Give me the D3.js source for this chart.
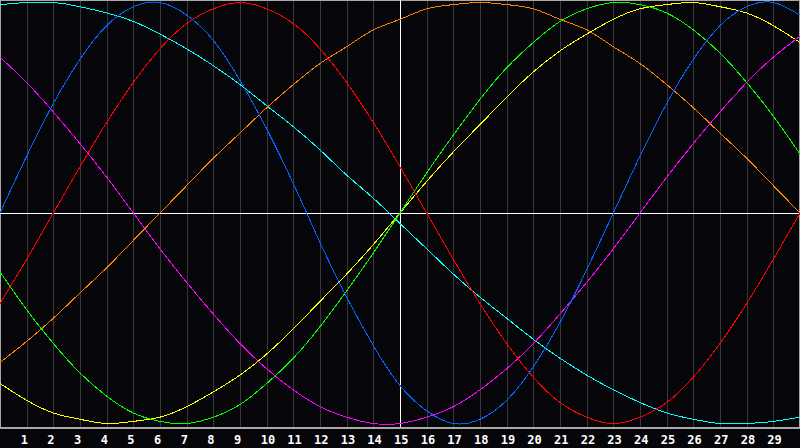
<!DOCTYPE html>
<html>
<head>
<meta charset="utf-8">
<script src="https://cdn.jsdelivr.net/npm/d3@7"></script>
<style>
    html, body { margin: 0; padding: 0; background: #060509; }
    svg { display: block; }
    .tick-label { font-family: "DejaVu Sans Mono", monospace; font-weight: bold; font-size: 12px; fill: #fff; }
</style>
</head>
<body>
<div id="chart"></div>
<script>
'use strict';

// x positions 0..30, one value per unit
var xValues = d3.range(0, 31);
var tickLabels = d3.range(1, 30).map(String);

var blue    = [0, 0.27, 0.52, 0.73, 0.89, 0.98, 1.00, 0.94, 0.82, 0.63, 0.40, 0.14, -0.14, -0.40, -0.63, -0.82, -0.94, -1.00, -0.98, -0.89, -0.73, -0.52, -0.27, 0, 0.27, 0.52, 0.73, 0.89, 0.98, 1.00, 0.94];
var red     = [-0.43, -0.22, 0, 0.22, 0.43, 0.62, 0.78, 0.90, 0.97, 1.00, 0.97, 0.90, 0.78, 0.62, 0.43, 0.22, 0, -0.22, -0.43, -0.62, -0.78, -0.90, -0.97, -1.00, -0.97, -0.90, -0.78, -0.62, -0.43, -0.22, 0];
var green   = [-0.28, -0.46, -0.62, -0.76, -0.87, -0.95, -0.99, -1.00, -0.97, -0.91, -0.81, -0.69, -0.54, -0.37, -0.19, 0, 0.19, 0.37, 0.54, 0.69, 0.81, 0.91, 0.97, 1.00, 0.99, 0.95, 0.87, 0.76, 0.62, 0.46, 0.28];
var magenta = [0.74, 0.62, 0.48, 0.33, 0.17, 0, -0.17, -0.33, -0.48, -0.62, -0.74, -0.84, -0.92, -0.97, -1.00, -1.00, -0.97, -0.92, -0.84, -0.74, -0.62, -0.48, -0.33, -0.17, 0, 0.17, 0.33, 0.48, 0.62, 0.74, 0.84];
var yellow  = [-0.81, -0.89, -0.95, -0.98, -1.00, -0.99, -0.97, -0.92, -0.85, -0.77, -0.67, -0.55, -0.42, -0.29, -0.15, 0, 0.15, 0.29, 0.42, 0.55, 0.67, 0.77, 0.85, 0.92, 0.97, 0.99, 1.00, 0.98, 0.95, 0.89, 0.81];
var orange  = [-0.71, -0.61, -0.50, -0.38, -0.26, -0.13, 0, 0.13, 0.26, 0.38, 0.50, 0.61, 0.71, 0.79, 0.87, 0.92, 0.97, 0.99, 1.00, 0.99, 0.97, 0.92, 0.87, 0.79, 0.71, 0.61, 0.50, 0.38, 0.26, 0.13, 0];
var cyan    = [0.99, 1.00, 1.00, 0.98, 0.95, 0.91, 0.85, 0.78, 0.70, 0.61, 0.51, 0.41, 0.30, 0.18, 0.07, -0.05, -0.17, -0.29, -0.40, -0.50, -0.60, -0.69, -0.77, -0.84, -0.90, -0.95, -0.98, -1.00, -1.00, -0.99, -0.97];

var series = [
    { values: cyan,    color: "#00ffff" },
    { values: orange,  color: "#ff8000" },
    { values: yellow,  color: "#ffff00" },
    { values: magenta, color: "#ff00ff" },
    { values: green,   color: "#00ff00" },
    { values: red,     color: "#ff0000" },
    { values: blue,    color: "#0066ff" }
];

var config = {
    width: 800,
    height: 448,
    plot: { left: 0, top: 0, right: 800, bottom: 427 },
    color: { background: "#060509", grid: "#383838", border: "#a8a8a8", zero: "#ffffff" }
};

var svg = d3.select("#chart").append("svg")
    .attr("width", config.width)
    .attr("height", config.height);

svg.append("rect")
    .attr("width", config.width)
    .attr("height", config.height)
    .attr("fill", config.color.background);

var x = d3.scaleLinear().domain([0, 30]).range([config.plot.left, config.plot.right]);
var y = d3.scaleLinear().domain([-1, 1]).range([423.5, 2.5]);

// vertical grid
svg.append("g")
    .selectAll("line")
    .data(d3.range(1, 30))
    .enter().append("line")
    .attr("x1", function (d) { return Math.round(x(d)) + 0.5; })
    .attr("x2", function (d) { return Math.round(x(d)) + 0.5; })
    .attr("y1", config.plot.top)
    .attr("y2", config.plot.bottom)
    .attr("stroke", config.color.grid)
    .attr("shape-rendering", "crispEdges");

// border of the plot
svg.append("path")
    .attr("d", "M0.5," + config.plot.bottom + "V0.5H799.5V" + config.plot.bottom)
    .attr("fill", "none")
    .attr("stroke", config.color.border)
    .attr("shape-rendering", "crispEdges");
svg.append("line")
    .attr("x1", 0).attr("x2", config.width)
    .attr("y1", config.plot.bottom + 0.5).attr("y2", config.plot.bottom + 0.5)
    .attr("stroke", config.color.border)
    .attr("stroke-width", 2)
    .attr("shape-rendering", "crispEdges");

// zero axes
svg.append("line")
    .attr("x1", 0).attr("x2", config.width)
    .attr("y1", Math.round(y(0)) + 0.5).attr("y2", Math.round(y(0)) + 0.5)
    .attr("stroke", config.color.zero)
    .attr("shape-rendering", "crispEdges");
svg.append("line")
    .attr("x1", Math.round(x(15)) + 0.5).attr("x2", Math.round(x(15)) + 0.5)
    .attr("y1", 0).attr("y2", config.plot.bottom)
    .attr("stroke", config.color.zero)
    .attr("shape-rendering", "crispEdges");

var line = d3.line()
    .x(function (d, i) { return x(xValues[i]); })
    .y(function (d) { return y(d); })
    .curve(d3.curveNatural);

svg.append("g")
    .selectAll("path")
    .data(series)
    .enter().append("path")
    .attr("fill", "none")
    .attr("stroke", function (d) { return d.color; })
    .attr("stroke-width", 1)
    .attr("shape-rendering", "crispEdges")
    .attr("d", function (d) { return line(d.values); });

// tick labels under the axis
svg.append("g")
    .selectAll("text")
    .data(tickLabels)
    .enter().append("text")
    .attr("class", "tick-label")
    .attr("x", function (d) { return x(+d) - 6; })
    .attr("y", 444)
    .text(function (d) { return d; });
</script>
</body>
</html>
